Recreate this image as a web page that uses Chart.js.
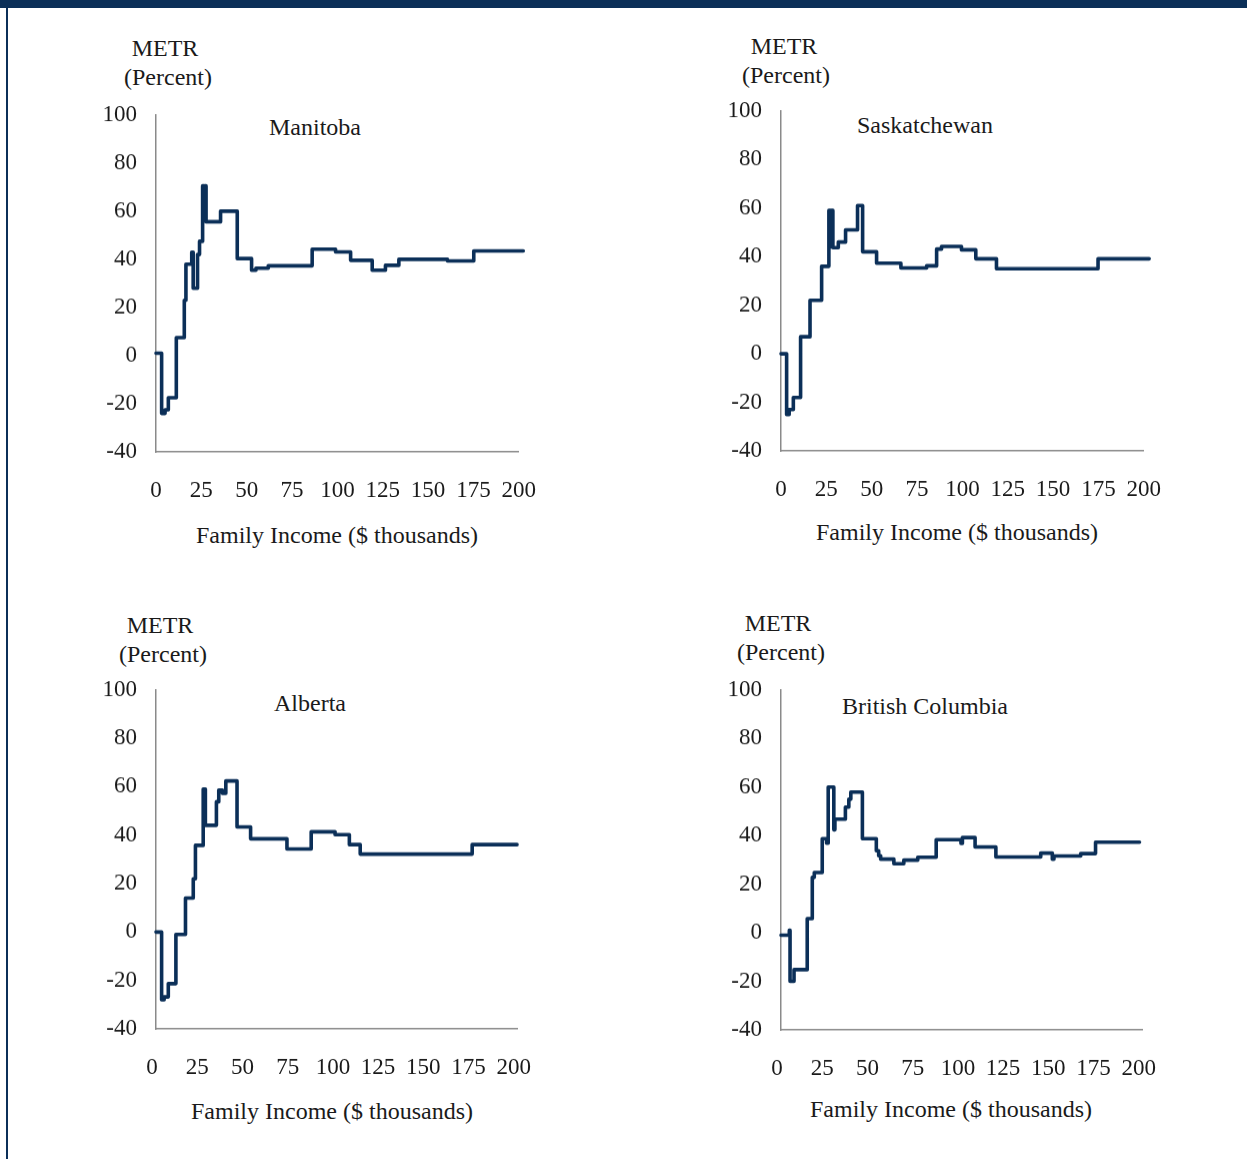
<!DOCTYPE html>
<html>
<head>
<meta charset="utf-8">
<script src="https://cdn.jsdelivr.net/npm/chart.js@4/dist/chart.umd.min.js"></script>
<style>
  html, body { margin: 0; padding: 0; background: #ffffff; }
  body { width: 1247px; height: 1159px; position: relative; overflow: hidden;
         font-family: "Liberation Serif", "DejaVu Serif", serif; color: #1a1a1a; }
  .topband { position: absolute; left: 0; top: 0; width: 1247px; height: 8px; background: #0b2f58; }
  .leftrule { position: absolute; left: 6px; top: 0; width: 2px; height: 1159px; background: #0b2f58; }
  .lbl { position: absolute; transform: translate(-50%, -50%); white-space: nowrap;
         font-size: 24px; line-height: 1; }
  canvas { position: absolute; }
</style>
</head>
<body>
<div class="topband"></div>
<div class="leftrule"></div>

<!-- Manitoba -->
<div class="lbl" style="left:165px;top:48px">METR</div>
<div class="lbl" style="left:168px;top:77px">(Percent)</div>
<div class="lbl" style="left:315px;top:127px">Manitoba</div>
<div class="lbl" style="left:337px;top:535px">Family Income ($ thousands)</div>
<canvas id="mb"></canvas>

<!-- Saskatchewan -->
<div class="lbl" style="left:784px;top:46px">METR</div>
<div class="lbl" style="left:786px;top:75px">(Percent)</div>
<div class="lbl" style="left:925px;top:125px">Saskatchewan</div>
<div class="lbl" style="left:957px;top:532px">Family Income ($ thousands)</div>
<canvas id="sk"></canvas>

<!-- Alberta -->
<div class="lbl" style="left:160px;top:625px">METR</div>
<div class="lbl" style="left:163px;top:654px">(Percent)</div>
<div class="lbl" style="left:310px;top:703px">Alberta</div>
<div class="lbl" style="left:332px;top:1111px">Family Income ($ thousands)</div>
<canvas id="ab"></canvas>

<!-- British Columbia -->
<div class="lbl" style="left:778px;top:623px">METR</div>
<div class="lbl" style="left:781px;top:652px">(Percent)</div>
<div class="lbl" style="left:925px;top:706px">British Columbia</div>
<div class="lbl" style="left:951px;top:1109px">Family Income ($ thousands)</div>
<canvas id="bc"></canvas>

<script>
// Marginal effective tax rate (percent) by family income ($ thousands).
// Each income value starts a step that holds until the next one.
const manitobaIncome = [0, 3.1, 5.0, 6.8, 11.2, 15.6, 16.5, 19.7, 20.5, 22.9, 24.0, 25.7, 26.4, 26.9, 27.6,
  35.6, 44.8, 52.7, 55.1, 61.9, 86.1, 99.0, 107.3, 119.2, 126.5, 133.9, 160.7, 175.2, 202.5];
const manitobaMetr = [1, -24, -22.5, -17.5, 7.5, 23, 38, 43, 28, 42, 47.5, 70.5, 56, 70.5, 55.6,
  60, 40.3, 35.5, 36.3, 37.3, 44.2, 43.1, 39.6, 35.5, 37.5, 40, 39.3, 43.5, 43.5];

const saskIncome = [0, 3.1, 4.5, 6.8, 10.8, 16.0, 22.4, 26.4, 27.2, 27.7, 28.6, 31.6, 35.6, 42.2, 45.0,
  52.7, 66.1, 80.3, 85.8, 88.5, 99.5, 107.4, 118.8, 174.8, 203];
const saskMetr = [0, -25, -23, -18, 7, 22, 36, 59, 44, 59, 43.7, 46, 51, 61, 42,
  37.3, 35.3, 36.2, 43.1, 44.2, 42.8, 39.1, 35, 39.1, 39.1];

const albertaIncome = [0, 3.1, 4.5, 6.8, 11.0, 16.3, 20.6, 21.8, 26.1, 27.3, 33.4, 34.7, 36.7, 38.6, 44.8,
  52.3, 72.4, 85.8, 99.0, 106.9, 112.9, 174.8, 199.6];
const albertaMetr = [0, -28, -26.8, -21.3, -1, 14, 22, 35.8, 59, 44.1, 53.8, 58.6, 57.3, 62.4, 43.4,
  38.5, 34.3, 41.4, 40.2, 36.1, 32.2, 36.1, 36.1];

const bcIncome = [0, 4.6, 5.0, 7.2, 14.5, 17.3, 18.4, 22.8, 25.2, 26.1, 29.2, 29.8, 35.6, 37.5, 38.6, 45.0,
  52.7, 54.0, 55.1, 62.4, 67.9, 75.6, 85.8, 99.5, 100.3, 107.3, 118.8, 143.6, 150.0, 150.9, 165.7, 173.9, 198.2];
const bcMetr = [-1, 1, -20, -15.2, 5.8, 22.8, 24.8, 38.7, 36.9, 60, 42.4, 46.8, 51.7, 55, 57.9, 38.7,
  33.8, 31.7, 30.3, 28.4, 29.9, 31.1, 38.3, 36.8, 39.2, 35.3, 31.2, 32.8, 30.3, 31.6, 32.6, 37.3, 37.3];

// Axis ranges and tick steps shared by all four panels
const incomeRange = [0, 200];
const incomeStep = 25;
const metrRange = [-40, 100];
const metrStep = 20;

const LINE = '#0b2f58';
const AXIS = '#8a8a8a';
const TICK_FONT = { family: '"Liberation Serif", "DejaVu Serif", serif', size: 23 };

const Y_AXIS_W = 100, X_AXIS_H = 60;

function config(income, metr, xLabelShift) {
  return {
    type: 'line',
    data: {
      datasets: [{
        data: income.map((x, i) => ({ x: x, y: metr[i] })),
        borderColor: LINE,
        borderWidth: 3.6,
        pointRadius: 0,
        stepped: true,
        fill: false,
        clip: false,
        borderCapStyle: 'round',
        borderJoinStyle: 'round'
      }]
    },
    options: {
      responsive: false,
      maintainAspectRatio: false,
      animation: false,
      devicePixelRatio: 1,
      layout: { padding: { top: 20, right: 30, left: 0, bottom: 0 } },
      plugins: { legend: { display: false }, tooltip: { enabled: false } },
      scales: {
        x: {
          type: 'linear',
          min: incomeRange[0], max: incomeRange[1],
          grid: { display: false, drawTicks: false },
          border: { display: true, color: AXIS, width: 1.5 },
          ticks: { stepSize: incomeStep, autoSkip: false, maxRotation: 0, minRotation: 0,
                   padding: 25, color: '#1a1a1a', font: TICK_FONT, labelOffset: xLabelShift },
          afterFit: s => { s.height = X_AXIS_H; }
        },
        y: {
          type: 'linear',
          min: metrRange[0], max: metrRange[1],
          grid: { display: false, drawTicks: false },
          border: { display: true, color: AXIS, width: 1.5 },
          ticks: { stepSize: metrStep, padding: 19, color: '#1a1a1a', font: TICK_FONT },
          afterFit: s => { s.width = Y_AXIS_W; }
        }
      }
    }
  };
}

function sizeCanvas(cv, w, h) {
  cv.width = w; cv.height = h;
  cv.style.width = w + 'px'; cv.style.height = h + 'px';
}

// Lay the panel out so that its plot area lands on the given page box.
function panel(id, income, metr, box, xLabelShift) {
  const cv = document.getElementById(id);
  const wantW = box.right - box.axisX;
  const wantH = box.bottom - box.top;
  let w = wantW + 160, h = wantH + 100;
  sizeCanvas(cv, w, h);
  let chart = new Chart(cv, config(income, metr, xLabelShift));
  const a = chart.chartArea;
  w += wantW - (a.right - a.left);
  h += wantH - (a.bottom - a.top);
  chart.destroy();
  sizeCanvas(cv, w, h);
  chart = new Chart(cv, config(income, metr, xLabelShift));
  const b = chart.chartArea;
  cv.style.left = (box.axisX - b.left) + 'px';
  cv.style.top = (box.top - b.top) + 'px';
}

panel('mb', manitobaIncome, manitobaMetr, { axisX: 156, top: 115, right: 519, bottom: 452 }, 0);
panel('sk', saskIncome, saskMetr, { axisX: 781, top: 111, right: 1144, bottom: 451 }, 0);
panel('ab', albertaIncome, albertaMetr, { axisX: 156, top: 690, right: 518, bottom: 1029 }, -4);
panel('bc', bcIncome, bcMetr, { axisX: 781, top: 690, right: 1143, bottom: 1030 }, -4);
</script>
</body>
</html>
